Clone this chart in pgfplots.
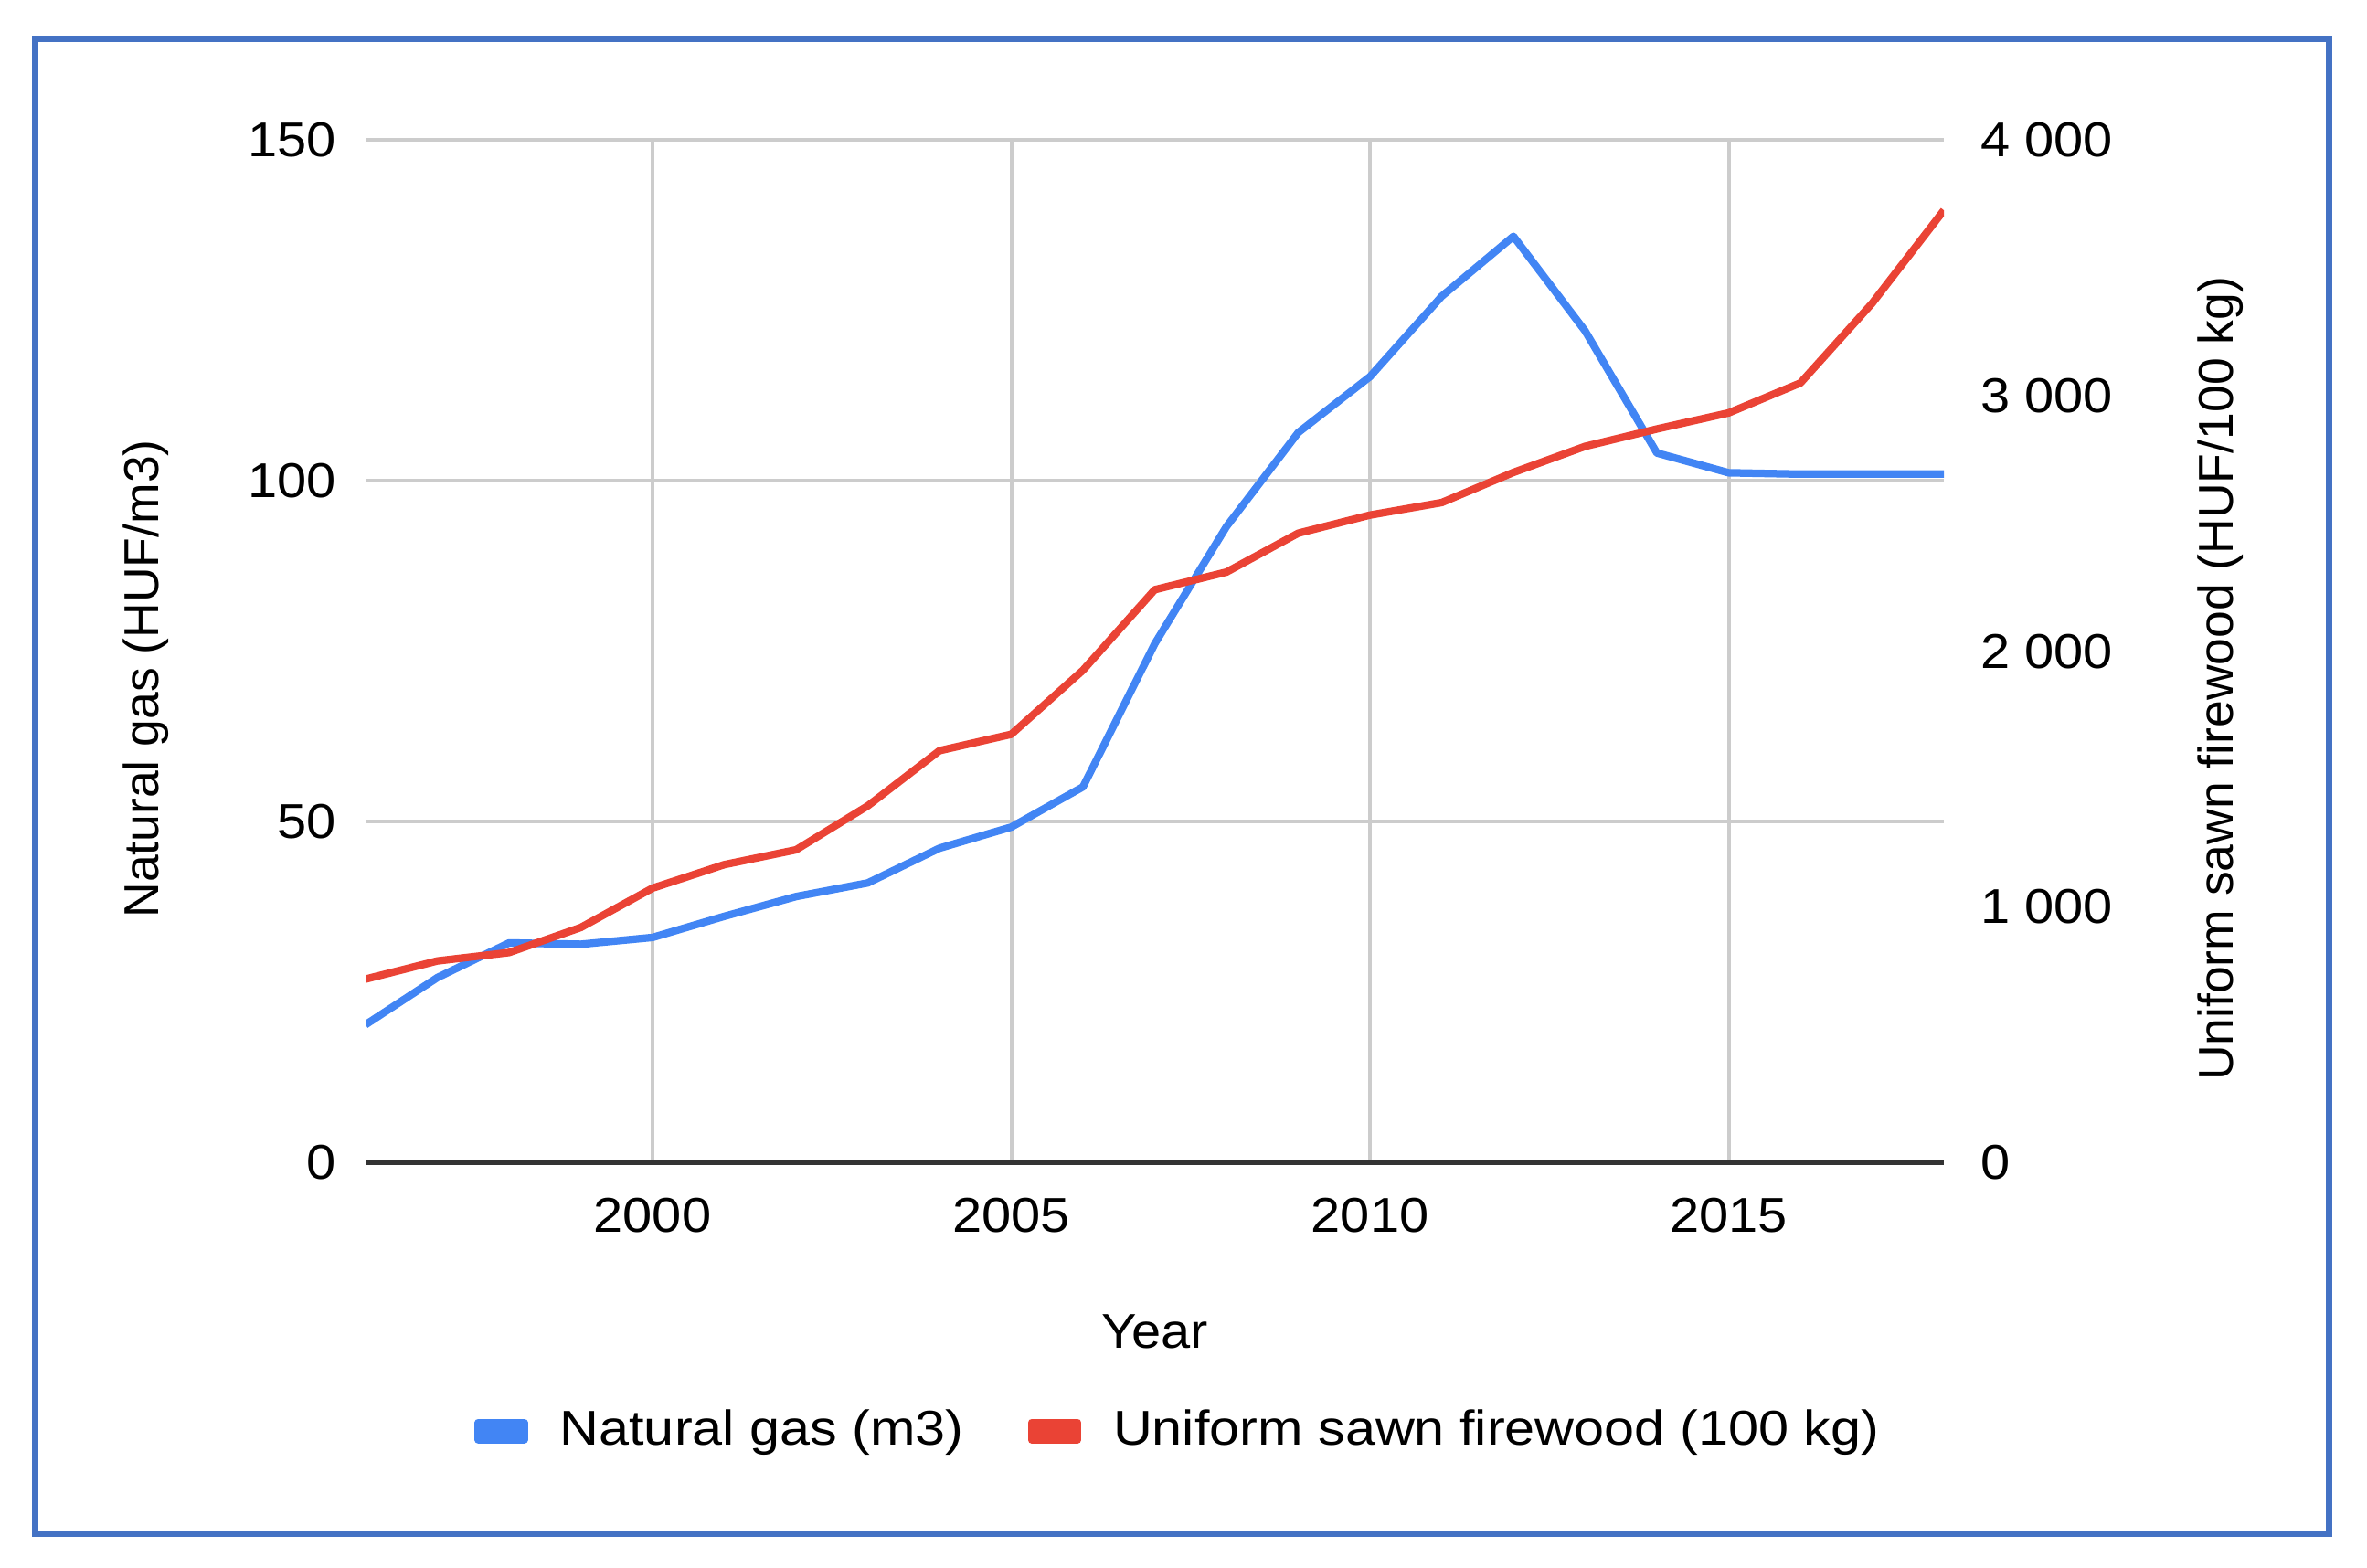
\documentclass[border=0pt]{standalone}
\usepackage{pgfplots}
\pgfplotsset{compat=1.18}
\usepackage{fontspec}
\setmainfont{Liberation Sans}[FakeStretch=1.08]
\newfontfamily\plainfont{Liberation Sans}
\newfontfamily\legfont{Liberation Sans}[FakeStretch=1.11]
\definecolor{gblue}{HTML}{4285F4}
\definecolor{gred}{HTML}{EA4335}
\definecolor{frameblue}{HTML}{4472C4}
\definecolor{gridgray}{HTML}{CCCCCC}
\definecolor{axisdark}{HTML}{333333}
\newcommand{\cf}{\fontsize{10.7}{12.8}\selectfont}
\begin{document}
\cf
\begin{tikzpicture}
\path (0,0) rectangle (518pt,343pt);
\draw[frameblue, line width=1.4pt] (7.6pt,7.4pt) rectangle (509.6pt,334.4pt);
\begin{axis}[
 at={(80pt,88.6pt)}, anchor=south west, scale only axis,
 width=345.4pt, height=223.7pt,
 xmin=1996, xmax=2018, ymin=0, ymax=150,
 xtick={2000,2005,2010,2015}, xticklabels={2000,2005,2010,2015},
 ytick={0,50,100,150}, yticklabels={0,50,100,150},
 grid=major, major grid style={gridgray, line width=0.8pt},
 major tick length=0pt,
 axis x line*=bottom, axis y line*=left,
 x axis line style={axisdark, line width=1pt, -},
 y axis line style={draw=none},
 tick label style={font=\cf},
 xticklabel style={yshift=-4pt},
 yticklabel style={xshift=-2.7pt},
 xlabel={Year}, ylabel={Natural gas (HUF/m3)},
 xlabel style={font=\cf, at={(axis description cs:0.5,-0.166)}, anchor=center},
 ylabel style={font=\plainfont\cf, at={(axis description cs:-0.139,0.473)}, anchor=center},
 legend style={at={(axis description cs:0.517,-0.263)}, anchor=center, draw=none, fill=none,
   font=\legfont\cf, legend columns=2,
   /tikz/every odd column/.append style={column sep=5pt},
   /tikz/every even column/.append style={column sep=12pt}},
 legend image code/.code={\fill[#1] (0pt,-1.9pt) rectangle (10pt,1.9pt);},
 line join=round,
]
\addplot[gblue, line width=1.65pt] coordinates {
(1996,20.2) (1997,27.1) (1998,32.2) (1999,32.0) (2000,33.0) (2001,36.1)
(2002,39.0) (2003,41.0) (2004,46.1) (2005,49.2) (2006,55.1) (2007,76.1)
(2008,93.3) (2009,107.1) (2010,115.3) (2011,127.1) (2012,135.9) (2013,122.0)
(2014,104.1) (2015,101.2) (2016,101.0) (2017,101.0) (2018,101.0)};
\addlegendentry{Natural gas (m3)}
\addlegendimage{gred, line width=1.65pt}
\addlegendentry{Uniform sawn firewood (100 kg)}
\end{axis}
\begin{axis}[
 at={(80pt,88.6pt)}, anchor=south west, scale only axis,
 width=345.4pt, height=223.7pt,
 xmin=1996, xmax=2018, ymin=0, ymax=4000,
 axis x line=none, axis y line*=right,
 y axis line style={draw=none},
 major tick length=0pt,
 ytick={0,1000,2000,3000,4000},
 yticklabels={0,1 000,2 000,3 000,4 000},
 tick label style={font=\cf},
 yticklabel style={anchor=west, xshift=4.3pt},
 ylabel={Uniform sawn firewood (HUF/100 kg)},
 ylabel style={font=\plainfont\cf, at={(axis description cs:1.1755,0.473)}, anchor=center},
 line join=round,
]
\addplot[gred, line width=1.65pt] coordinates {
(1996,717) (1997,788) (1998,821) (1999,919) (2000,1073) (2001,1165)
(2002,1223) (2003,1395) (2004,1611) (2005,1675) (2006,1926) (2007,2241)
(2008,2310) (2009,2462) (2010,2533) (2011,2582) (2012,2700) (2013,2802)
(2014,2870) (2015,2933) (2016,3050) (2017,3362) (2018,3726)};
\end{axis}
\end{tikzpicture}
\end{document}
